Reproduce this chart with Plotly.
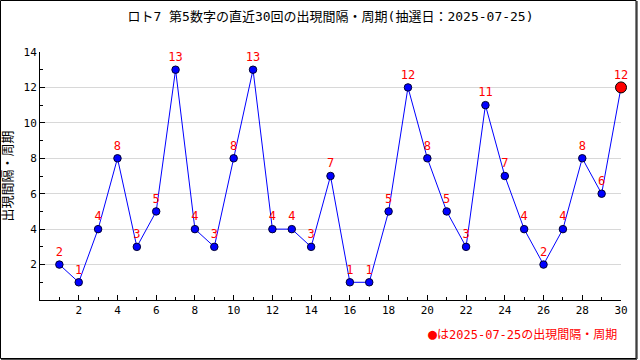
import plotly.graph_objects as go

draws = list(range(1, 31))
intervals = [2, 1, 4, 8, 3, 5, 13, 4, 3, 8, 13, 4, 4, 3, 7, 1, 1, 5, 12, 8, 5, 3, 11, 7, 4, 2, 4, 8, 6, 12]
title_text = "ロト7 第5数字の直近30回の出現間隔・周期(抽選日：2025-07-25)"
y_title = "出現間隔・周期"
note_mark = "●"
note_text = "は2025-07-25の出現間隔・周期"
x_ticks = list(range(2, 31, 2))
y_ticks = list(range(2, 15, 2))

font_family = "DejaVu Sans Mono, Noto Sans CJK JP, monospace"

L, R, T, B = 40, 19, 52, 60
W, H = 640, 360
pw, ph = W - L - R, H - T - B


def px(x):
    return (x - L) / pw


def py(y):
    return (H - B - y) / ph


fig = go.Figure()
fig.add_trace(go.Scatter(
    x=draws, y=intervals, mode="lines+markers+text",
    line=dict(color="#0000ff", width=1),
    marker=dict(color="#0000ff", size=7.5, line=dict(color="#000033", width=1)),
    text=[str(v) for v in intervals], textposition="top center",
    textfont=dict(color="#ff0000", size=12, family=font_family),
    cliponaxis=False, showlegend=False,
))
fig.add_trace(go.Scatter(
    x=[draws[-1]], y=[intervals[-1]], mode="markers",
    marker=dict(color="#ff0000", size=11, line=dict(color="#000000", width=1)),
    cliponaxis=False, showlegend=False,
))

fig.update_layout(
    width=W, height=H, autosize=False,
    margin=dict(l=L, r=R, t=T, b=B, pad=0),
    paper_bgcolor="white", plot_bgcolor="white",
    font=dict(family=font_family, size=11, color="#000000"),
    title=dict(text=title_text, x=0.5, xref="paper", xanchor="center",
               y=1 - 16 / H, yref="container", yanchor="middle",
               font=dict(size=13, family=font_family)),
    xaxis=dict(range=[0, 30], tickvals=x_ticks, showgrid=False, zeroline=False,
               showline=True, linecolor="#000000", linewidth=1,
               ticks="inside", ticklen=5, tickcolor="#000000",
               minor=dict(dtick=1, ticks="inside", ticklen=3, tickcolor="#000000"),
               tickfont=dict(size=11), fixedrange=True, automargin=False),
    yaxis=dict(range=[0, 14], tickvals=y_ticks, showgrid=True, gridcolor="#d8d8d8",
               zeroline=False, showline=True, linecolor="#000000", linewidth=1,
               ticks="inside", ticklen=5, tickcolor="#000000",
               minor=dict(dtick=1, ticks="inside", ticklen=3, tickcolor="#000000"),
               tickfont=dict(size=11), fixedrange=True, automargin=False,
               title=dict(text=y_title, font=dict(size=13), standoff=8)),
    shapes=[
        dict(type="rect", xref="paper", yref="paper", x0=px(0.5), x1=px(636),
             y0=py(358.5), y1=py(0.5), line=dict(color="#000000", width=1)),
        dict(type="line", xref="paper", yref="paper", x0=px(637), x1=px(637),
             y0=py(359), y1=py(1), line=dict(color="#000000", width=1)),
        dict(type="line", xref="paper", yref="paper", x0=px(1), x1=px(637),
             y0=py(359.2), y1=py(359.2), line=dict(color="#000000", width=1)),
    ],
    annotations=[dict(text=f"<span style='font-size:15px'>{note_mark}</span>{note_text}",
                      xref="paper", yref="paper", x=px(619), y=py(334),
                      xanchor="right", yanchor="middle", showarrow=False,
                      font=dict(color="#ff0000", size=12, family=font_family))],
)

fig.write_html("out.html", config={"displayModeBar": False, "staticPlot": True},
               post_script="document.body.style.margin='0';document.body.style.overflow='hidden';")
